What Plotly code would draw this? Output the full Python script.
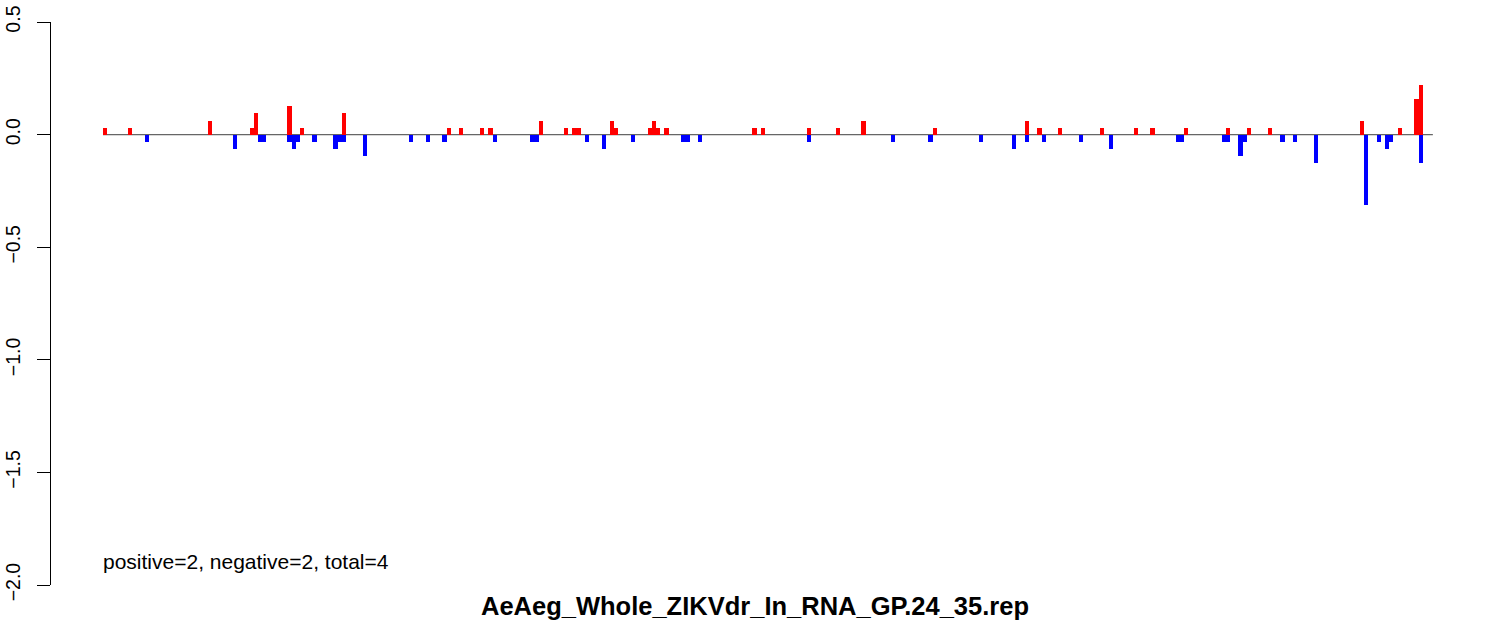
import plotly.graph_objects as go

# slot index along the read-length track, value in read-fraction units
POS_SLOTS = [0, 6, 25, 35, 36, 44, 47, 57, 82, 85, 90, 92, 104, 110, 112, 113,
             121, 122, 130, 131, 132, 134, 155, 157, 168, 175, 181, 198, 220,
             223, 228, 238, 246, 250, 258, 268, 273, 278, 300, 309, 313, 314]
POS_VALS = [0.031, 0.031, 0.062, 0.031, 0.094, 0.125, 0.031, 0.094, 0.031,
            0.031, 0.031, 0.031, 0.062, 0.031, 0.031, 0.031, 0.062, 0.031,
            0.031, 0.062, 0.031, 0.031, 0.031, 0.031, 0.031, 0.031, 0.062,
            0.031, 0.062, 0.031, 0.031, 0.031, 0.031, 0.031, 0.031, 0.031,
            0.031, 0.031, 0.062, 0.031, 0.156, 0.219]

NEG_SLOTS = [10, 31, 37, 38, 44, 45, 46, 50, 55, 56, 57, 62, 73, 77, 81, 93,
             102, 103, 115, 119, 126, 138, 139, 142, 168, 188, 197, 209, 217,
             220, 224, 233, 240, 256, 257, 267, 268, 271, 272, 281, 284, 289,
             301, 304, 306, 307, 314]
NEG_VALS = [-0.031, -0.062, -0.031, -0.031, -0.031, -0.062, -0.031, -0.031,
            -0.062, -0.031, -0.031, -0.094, -0.031, -0.031, -0.031, -0.031,
            -0.031, -0.031, -0.031, -0.062, -0.031, -0.031, -0.031, -0.031,
            -0.031, -0.031, -0.031, -0.031, -0.062, -0.031, -0.031, -0.031,
            -0.062, -0.031, -0.031, -0.031, -0.031, -0.094, -0.031, -0.031,
            -0.031, -0.125, -0.312, -0.031, -0.062, -0.031, -0.125]

Y_TICKS = [0.5, 0.0, -0.5, -1.0, -1.5, -2.0]
Y_TICK_TEXT = ["0.5", "0.0", "\u22120.5", "\u22121.0", "\u22121.5", "\u22122.0"]

TITLE = "AeAeg_Whole_ZIKVdr_In_RNA_GP.24_35.rep"
NOTE = "positive=2, negative=2, total=4"
N_SLOTS = 317

FONT = "Liberation Sans, Arial, Helvetica, sans-serif"

fig = go.Figure()
fig.add_trace(go.Bar(x=POS_SLOTS, y=POS_VALS, width=1, marker_color="#FF0000",
                     marker_line_width=0, name="positive"))
fig.add_trace(go.Bar(x=NEG_SLOTS, y=NEG_VALS, width=1, marker_color="#0000FF",
                     marker_line_width=0, name="negative"))

# baseline across the track
fig.add_shape(type="line", xref="x", yref="y", x0=-0.5, x1=N_SLOTS - 0.1,
              y0=0, y1=0, line=dict(color="#666666", width=1.2), layer="below")

fig.add_annotation(text=NOTE, xref="paper", yref="paper", x=0.0355, y=0.041,
                   xanchor="left", yanchor="middle", showarrow=False,
                   font=dict(size=21, color="black", family=FONT))
fig.add_annotation(text="<b>" + TITLE + "</b>", xref="paper", yref="paper",
                   x=0.5, y=-0.037, xanchor="center", yanchor="middle",
                   showarrow=False, font=dict(size=25.5, color="black", family=FONT))

fig.update_layout(
    width=1486, height=622,
    margin=dict(l=51, r=28, t=22, b=37),
    paper_bgcolor="white", plot_bgcolor="white",
    barmode="overlay", bargap=0, showlegend=False,
    font=dict(family=FONT, color="black"),
    xaxis=dict(visible=False, range=[-12.91, 322.9], automargin=False),
    yaxis=dict(range=[-2.0, 0.5], tickvals=Y_TICKS, ticktext=Y_TICK_TEXT,
               tickangle=-90, ticks="outside", ticklen=13, tickwidth=1,
               tickcolor="black", showline=True, linecolor="black",
               linewidth=1, showgrid=False, zeroline=False, automargin=False,
               tickfont=dict(size=19.5, color="black", family=FONT),
               ticklabelstandoff=9),
)

fig.write_html("out.html", config={"displayModeBar": False},
               post_script="document.body.style.margin='0';")
